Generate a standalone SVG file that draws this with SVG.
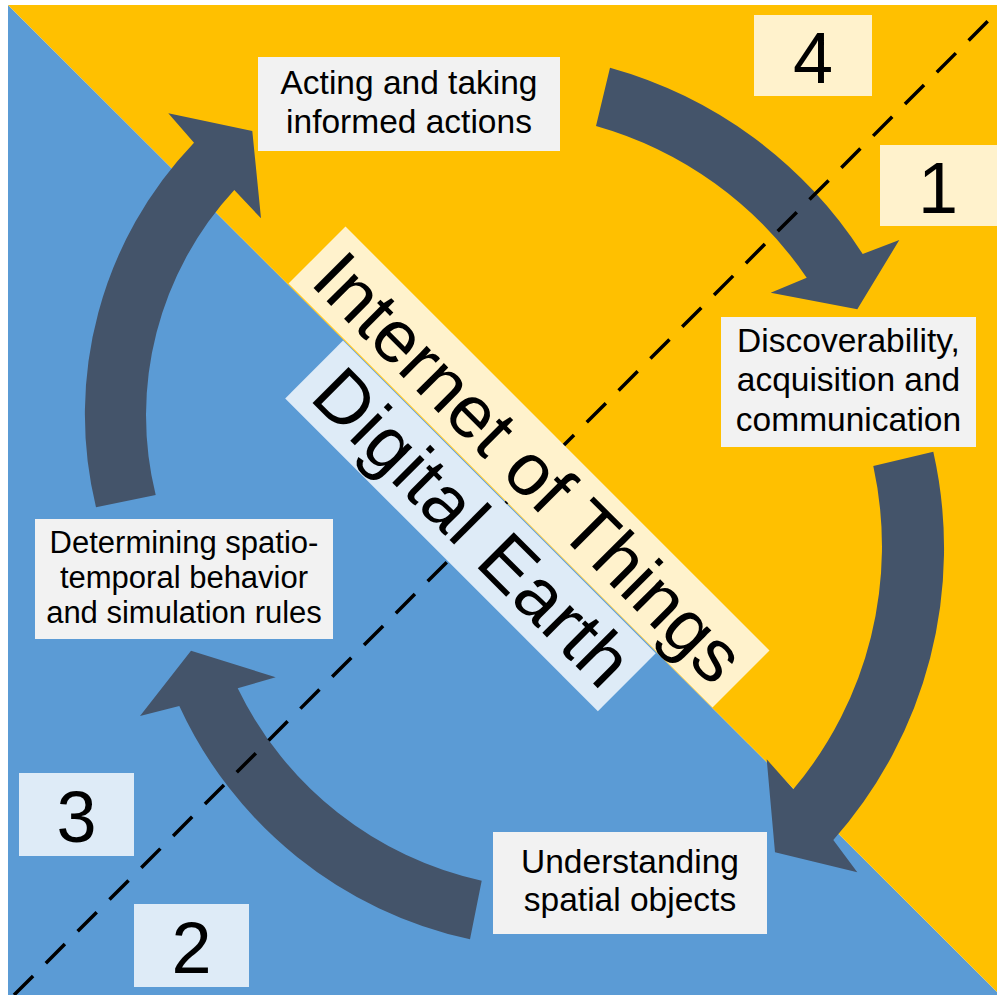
<svg xmlns="http://www.w3.org/2000/svg" width="997" height="995" viewBox="0 0 997 995">
<defs>
<style>
.box{fill:#F2F2F2}
.cream{fill:#FFF2CC}
.lblue{fill:#DEEBF7}
.arrow{fill:#44546A}
text{font-family:"Liberation Sans",Arial,sans-serif;fill:#000;text-anchor:middle}
.t{font-size:33.5px}
.ts{font-size:31px}
.num{font-size:72px}
.big{font-size:74px}
</style>
</defs>
<g id="background">
<rect x="0" y="0" width="997" height="995" fill="#FFFFFF"/>
<polygon points="8,5 8,995 997,995 997,992" fill="#5B9BD5"/>
<polygon points="8,5 997,5 997,992" fill="#FFC000"/>
</g>
<g id="connectors">
<path class="arrow" d="M 610,67.7 A 440 440 0 0 1 862.7,254 L 899.3,240 L 857.3,309.3 L 770.7,292.7 L 806.7,277.7 A 380 380 0 0 0 596,126 Z"/>
<path class="arrow" d="M 933.3,451.7 A 439.5 439.5 0 0 1 833.3,840 L 857.3,872.3 L 775,852.3 L 766.7,759.3 L 793.3,789.3 A 377 377 0 0 0 873.3,466 Z"/>
<path class="arrow" d="M 470,939.3 A 416.5 416.5 0 0 1 179.3,706 L 140,716 L 191,650.7 L 275.7,677.3 L 237.7,688.3 A 356 356 0 0 0 481.7,880.7 Z"/>
<path class="arrow" d="M 96,507.3 A 393 393 0 0 1 194,142.7 L 168.3,113.3 L 252.3,131 L 261,218.3 L 234.3,190 A 332 332 0 0 0 155.7,495 Z"/>
</g>
<g id="divider">
<line x1="14" y1="995" x2="997" y2="12" stroke="#000" stroke-width="3.5" stroke-dasharray="27 18"/>
</g>
<g id="banner-iot" transform="rotate(45)">
<rect class="cream" x="404.5" y="-84.1" width="599.6" height="80.6"/>
<text class="big" x="704.5" y="-18" textLength="572" lengthAdjust="spacing">Internet of Things</text>
</g>
<g id="banner-de" transform="rotate(45)">
<rect class="lblue" x="483.4" y="-1.8" width="442.2" height="81.9"/>
<text class="big" x="707" y="64" textLength="414" lengthAdjust="spacing">Digital Earth</text>
</g>
<g id="node-acting">
<rect class="box" x="258" y="57" width="302" height="94"/>
<text class="t" x="409" y="94">Acting and taking</text>
<text class="t" x="409" y="133">informed actions</text>
</g>
<g id="node-discover">
<rect class="box" x="721" y="317" width="255" height="130"/>
<text class="t" x="848.5" y="352">Discoverability,</text>
<text class="t" x="848.5" y="391">acquisition and</text>
<text class="t" x="848.5" y="431">communication</text>
</g>
<g id="node-understanding">
<rect class="box" x="493" y="832" width="274" height="102"/>
<text class="t" x="630" y="873">Understanding</text>
<text class="t" x="630" y="911">spatial objects</text>
</g>
<g id="node-determining">
<rect class="box" x="35" y="519" width="298" height="120"/>
<text class="ts" x="184" y="553">Determining spatio-</text>
<text class="ts" x="184" y="588">temporal behavior</text>
<text class="ts" x="184" y="622.5">and simulation rules</text>
</g>
<g id="num-4">
<rect class="cream" x="754" y="15" width="118" height="81"/>
<text class="num" x="813" y="83">4</text>
</g>
<g id="num-1">
<rect class="cream" x="880" y="145" width="117" height="81"/>
<text class="num" x="938" y="213">1</text>
</g>
<g id="num-3">
<rect class="lblue" x="19" y="773" width="115" height="83"/>
<text class="num" x="76.5" y="842">3</text>
</g>
<g id="num-2">
<rect class="lblue" x="134" y="904" width="115" height="83"/>
<text class="num" x="191.5" y="973">2</text>
</g>
</svg>
